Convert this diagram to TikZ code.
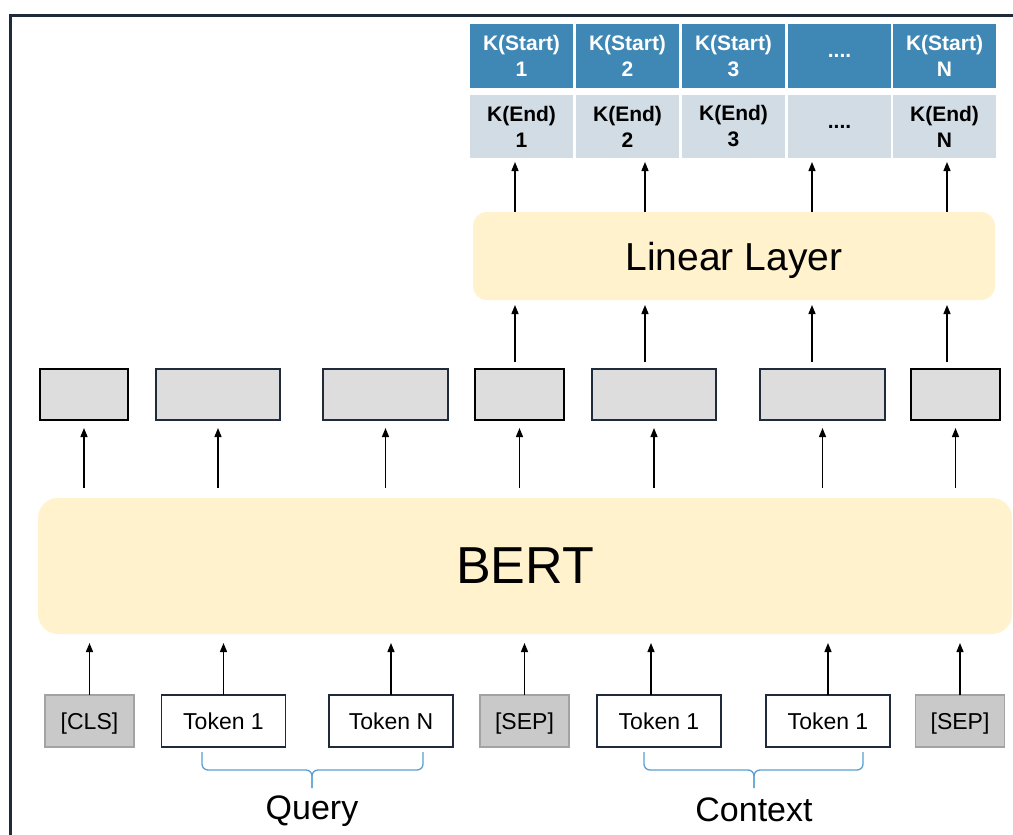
\documentclass[tikz,border=0pt]{standalone}
\usepackage{fontspec}
\setmainfont{Liberation Sans}
\usetikzlibrary{arrows.meta}

\definecolor{frame}{HTML}{1F2B3A}
\definecolor{kstart}{HTML}{3F87B4}
\definecolor{kend}{HTML}{D2DCE5}
\definecolor{layer}{HTML}{FFF2CC}
\definecolor{hidden}{HTML}{DDDDDD}
\definecolor{special}{HTML}{C9C9C9}
\definecolor{specialedge}{HTML}{A3A3A3}
\definecolor{bracecol}{HTML}{5BA0D0}

\begin{document}
\begin{tikzpicture}[x=1pt, y=-1pt,
  cell/.style={minimum width=103, minimum height=64, inner sep=0, outer sep=0,
    align=center, font=\bfseries\fontsize{21}{26}\selectfont},
  hdr/.style={cell, fill=kstart, text=white},
  endcell/.style={cell, fill=kend, text=black, minimum height=63},
  layerbox/.style={fill=layer, draw=none, inner sep=0, outer sep=0, text depth=0pt},
  hbox/.style={fill=hidden, draw=frame, line width=2pt, minimum height=51,
    inner sep=0, outer sep=0},
  tok/.style={fill=white, draw=frame, line width=1.6pt, minimum height=52,
    minimum width=124, inner sep=0, outer sep=0, text depth=0pt,
    font=\fontsize{23}{27}\selectfont},
  spec/.style={tok, fill=special, draw=specialedge, line width=1.4pt, minimum width=89},
  arr/.style={draw=black, line width=1.3pt, -{Triangle[length=9pt,width=7pt]}},
  brace/.style={draw=bracecol, line width=1.3pt, rounded corners=6pt},
  lbl/.style={anchor=base, inner sep=0, font=\fontsize{34}{40}\selectfont}
]
\useasboundingbox (0,0) rectangle (1013,835);

% outer frame
\draw[frame, line width=3pt] (10,840) -- (10,15) -- (1020,15);

% start / end logits table
\node[hdr] (s1) at (521.5,56) {K(Start)\\1};
\node[hdr] (s2) at (627.5,56) {K(Start)\\2};
\node[hdr] (s3) at (733.5,56) {K(Start)\\3};
\node[hdr] (s4) at (839.5,56) {....};
\node[hdr] (s5) at (944.5,56) {K(Start)\\N};
\node[endcell] (e1) at (521.5,126.5) {K(End)\\1};
\node[endcell] (e2) at (627.5,126.5) {K(End)\\2};
\node[endcell] (e3) at (733.5,126.5) {K(End)\\3};
\node[endcell] (e4) at (839.5,126.5) {....};
\node[endcell] (e5) at (944.5,126.5) {K(End)\\N};

% linear layer
\node[layerbox, rounded corners=14pt, minimum width=522, minimum height=88,
  font=\fontsize{39}{45}\selectfont] (lin) at (734,256) {Linear Layer};

% hidden states
\node[hbox, draw=black, minimum width=88]  (h1) at (84,394.5) {};
\node[hbox, minimum width=124] (h2) at (218,394.5) {};
\node[hbox, minimum width=125] (h3) at (385.5,394.5) {};
\node[hbox, draw=black, minimum width=89]  (h4) at (519.5,394.5) {};
\node[hbox, minimum width=124] (h5) at (654,394.5) {};
\node[hbox, minimum width=125] (h6) at (822.5,394.5) {};
\node[hbox, draw=black, minimum width=89]  (h7) at (955.5,394.5) {};

% BERT encoder
\node[layerbox, rounded corners=20pt, minimum width=974, minimum height=136,
  font=\fontsize{52}{60}\selectfont] (bert) at (525,566) {BERT};

% input tokens
\node[spec] (t1) at (89.5,721) {[CLS]};
\node[tok]  (t2) at (223.5,721) {Token 1};
\node[tok]  (t3) at (391,721) {Token N};
\node[spec] (t4) at (524.5,721) {[SEP]};
\node[tok]  (t5) at (659,721) {Token 1};
\node[tok]  (t6) at (828,721) {Token 1};
\node[spec] (t7) at (960,721) {[SEP]};

% tokens -> BERT
\foreach \t in {t1,t2,t3,t4,t6,t7}
  \draw[arr, shorten >=9pt] (\t.north) -- (\t.north |- bert.south);
\draw[arr, shorten >=9pt] ([xshift=-8pt]t5.north) -- ([xshift=-8pt]t5.north |- bert.south);

% BERT -> hidden states
\foreach \h in {h1,h2,h3,h4,h5,h6,h7}
  \draw[arr, shorten <=10pt, shorten >=8pt] (\h.south |- bert.north) -- (\h.south);

% hidden states -> linear layer -> table
\coordinate (c1) at (515,0);
\coordinate (c2) at (645,0);
\coordinate (c3) at (812,0);
\coordinate (c4) at (947,0);
\foreach \c/\h in {c1/h4,c2/h5,c3/h6,c4/h7}{
  \draw[arr, shorten <=7pt, shorten >=5pt] (\c |- \h.north) -- (\c |- lin.south);
  \draw[arr, shorten >=4pt] (\c |- lin.north) -- (\c |- e1.south);
}

% braces
\coordinate (qm) at (312,770);
\draw[brace] (202,752) -- (202,770) -- (qm) -- (312,788);
\draw[brace] (423,752) -- (423,770) -- (qm) -- (312,788);
\coordinate (cm) at (754,770);
\draw[brace] (644,752) -- (644,770) -- (cm) -- (754,788);
\draw[brace] (863,752) -- (863,770) -- (cm) -- (754,788);

\node[lbl] (query) at (312,819) {Query};
\node[lbl] (context) at (754,821) {Context};
\end{tikzpicture}
\end{document}
